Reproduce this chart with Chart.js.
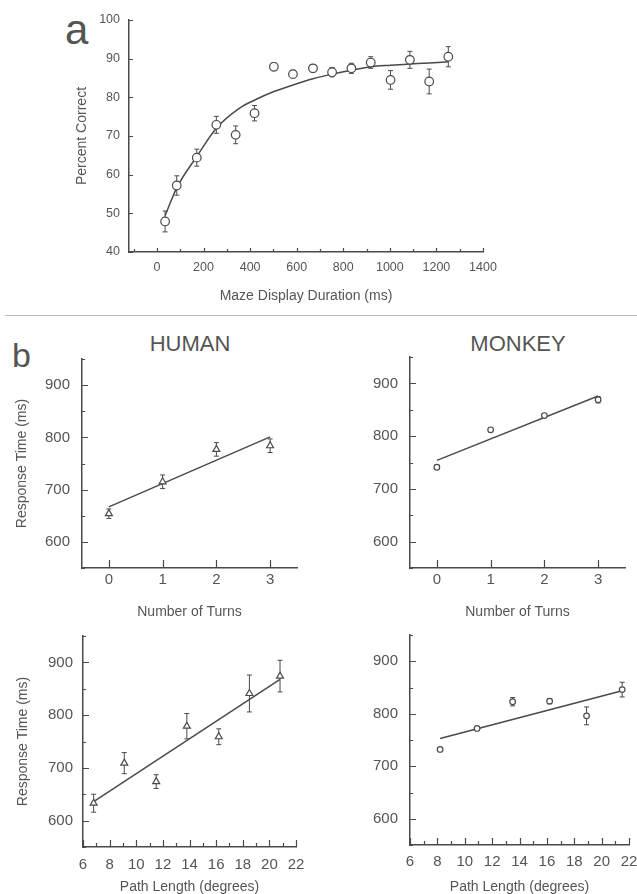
<!DOCTYPE html>
<html>
<head>
<meta charset="utf-8">
<script src="https://cdn.jsdelivr.net/npm/chart.js@4.4.1/dist/chart.umd.min.js"></script>
<style>
  html, body { margin: 0; padding: 0; background: #fff; overflow: hidden; }
  body { width: 637px; height: 894px; position: relative; font-family: "Liberation Sans", Arial, sans-serif; color: #555; }
  canvas { position: absolute; }
  .lbl { position: absolute; white-space: nowrap; }
  .panel { font-size: 42px; line-height: 42px; }
  .head { font-size: 22px; line-height: 22px; width: 200px; text-align: center; }
  .sep { position: absolute; left: 5px; right: 0; top: 315px; height: 1px; background: #bbb; }
</style>
</head>
<body>
<div class="lbl panel" style="left:65px; top:9px;">a</div>
<div class="lbl panel" style="left:12px; top:338px; font-size:34px; line-height:34px;">b</div>
<div class="lbl head" style="left:90px; top:333px;">HUMAN</div>
<div class="lbl head" style="left:418px; top:333px;">MONKEY</div>
<div class="sep"></div>

<canvas id="chartA" width="440" height="300" style="left:60px; top:10px;"></canvas>
<canvas id="humTurns" width="318" height="295" style="left:0px; top:330px;"></canvas>
<canvas id="monTurns" width="319" height="295" style="left:318px; top:330px;"></canvas>
<canvas id="humPath" width="318" height="269" style="left:0px; top:625px;"></canvas>
<canvas id="monPath" width="319" height="269" style="left:318px; top:625px;"></canvas>

<script>
// ---- panel a: percent correct vs display duration
const durMs = [35, 85, 171, 255, 338, 419, 502, 584, 670, 752, 835, 918, 1003, 1086, 1169, 1251];
const pctCorrect = [47.9, 57.2, 64.4, 72.9, 70.3, 75.9, 87.9, 86.0, 87.5, 86.5, 87.5, 89.0, 84.5, 89.7, 84.1, 90.5];
const pctErr = [2.7, 2.5, 2.2, 2.2, 2.3, 2.0, 1.0, 1.0, 1.0, 1.2, 1.3, 1.5, 2.4, 2.2, 3.2, 2.6];
const fitMs = [35, 85, 171, 255, 355, 420, 502, 584, 670, 752, 835, 918, 1003, 1086, 1170, 1250];
const fitPct = [49.4, 56.6, 64.7, 72.0, 77.2, 79.3, 81.5, 83.2, 84.8, 86.0, 87.0, 87.9, 88.3, 88.6, 88.9, 89.2];
const durTicks = [0, 200, 400, 600, 800, 1000, 1200, 1400];
const pctTicks = [40, 50, 60, 70, 80, 90, 100];

// ---- panel b: response time
const turns = [0, 1, 2, 3];
const humTurnRT = [654, 715, 777, 784];
const humTurnErr = [9, 13, 13, 13];
const humTurnFit = [667, 801];
const monTurnRT = [741, 812, 839, 869];
const monTurnErr = [4, 4, 4, 6];
const monTurnFit = [754, 876];

const humPathDeg = [6.8, 9.1, 11.5, 13.8, 16.2, 18.5, 20.8];
const humPathRT = [633, 709, 674, 779, 759, 841, 874];
const humPathErr = [17, 20, 13, 24, 15, 35, 30];
const humPathFitX = [6.8, 20.8];
const humPathFitY = [636, 868];
const monPathDeg = [8.2, 10.9, 13.5, 16.2, 18.9, 21.5];
const monPathRT = [732, 772, 823, 824, 796, 846];
const monPathErr = [3, 3, 8, 5, 17, 14];
const monPathFitX = [8.2, 21.5];
const monPathFitY = [753, 844];

const rtTicks = [600, 700, 800, 900];
const pathTicks = [6, 8, 10, 12, 14, 16, 18, 20, 22];

const INK = '#4a4a4a';
const TXT = '#555';

const pts = (xs, ys) => xs.map((x, i) => ({ x: x, y: ys[i] }));

// vertical error bars, drawn under the open markers
const errorBars = {
  id: 'errorBars',
  beforeDatasetsDraw(chart) {
    const { ctx, scales: { x, y } } = chart;
    ctx.save();
    ctx.strokeStyle = INK;
    ctx.lineWidth = 1;
    chart.data.datasets.forEach(ds => {
      if (!ds.errors) return;
      ds.data.forEach((p, i) => {
        const e = ds.errors[i];
        const px = x.getPixelForValue(p.x);
        const top = y.getPixelForValue(p.y + e);
        const bot = y.getPixelForValue(p.y - e);
        ctx.beginPath();
        ctx.moveTo(px, top); ctx.lineTo(px, bot);
        ctx.moveTo(px - 2.5, top); ctx.lineTo(px + 2.5, top);
        ctx.moveTo(px - 2.5, bot); ctx.lineTo(px + 2.5, bot);
        ctx.stroke();
      });
    });
    ctx.restore();
  }
};

// tick marks pointing into the plot
const innerTicks = {
  id: 'innerTicks',
  afterDraw(chart, args, opts) {
    const { ctx, chartArea: a, scales: { x, y } } = chart;
    ctx.save();
    ctx.strokeStyle = INK;
    ctx.lineWidth = 1.2;
    ctx.beginPath();
    const isMajor = (v, step) => Math.abs(v / step - Math.round(v / step)) < 1e-6;
    for (let v = Math.ceil(x.min / opts.xMinor) * opts.xMinor; v <= x.max + 1e-6; v += opts.xMinor) {
      const px = Math.round(x.getPixelForValue(v)) + 0.5;
      const len = isMajor(v, opts.xMajor) ? opts.xLen : opts.xMinorLen;
      ctx.moveTo(px, a.bottom); ctx.lineTo(px, a.bottom - len);
    }
    for (let v = Math.ceil(y.min / opts.yMinor) * opts.yMinor; v <= y.max + 1e-6; v += opts.yMinor) {
      const py = Math.round(y.getPixelForValue(v)) + 0.5;
      const len = isMajor(v, opts.yMajor) ? opts.yLen : opts.yMinorLen;
      ctx.moveTo(a.left, py); ctx.lineTo(a.left + len, py);
    }
    ctx.stroke();
    ctx.restore();
  }
};

const makeScale = (o) => ({
  type: 'linear',
  min: o.min,
  max: o.max,
  afterBuildTicks: s => { s.ticks = o.ticks.map(v => ({ value: v })); },
  afterFit: s => {
    if (o.width) s.width = o.width;
    if (o.height) s.height = o.height;
    // keep chart area fixed by the layout padding only
    s.paddingTop = 0; s.paddingBottom = 0; s.paddingLeft = 0; s.paddingRight = 0;
  },
  grid: { display: false, drawTicks: false },
  border: { display: true, color: INK, width: 1.5 },
  ticks: { color: TXT, padding: o.pad, font: { family: 'Liberation Sans', size: o.size }, callback: v => String(v) },
  title: o.title ? {
    display: true, text: o.title, color: TXT, padding: o.titlePad,
    font: { family: 'Liberation Sans', size: 14, lineHeight: 1 }
  } : { display: false }
});

const scatterSet = (data, errs, style, r) => ({
  type: 'scatter',
  data: data,
  errors: errs,
  pointStyle: style,
  pointRadius: r,
  pointBorderWidth: 1.2,
  borderColor: INK,
  backgroundColor: '#fff',
  order: 1
});

const lineSet = (data, tension) => ({
  type: 'line',
  data: data,
  borderColor: INK,
  borderWidth: 1.5,
  pointRadius: 0,
  fill: false,
  tension: tension,
  cubicInterpolationMode: tension ? 'monotone' : 'default',
  order: 2
});

const baseOpts = (padding, xScale, yScale, tickOpts) => ({
  responsive: false,
  animation: false,
  layout: { padding: padding },
  plugins: { legend: { display: false }, tooltip: { enabled: false }, innerTicks: tickOpts },
  scales: { x: xScale, y: yScale }
});

// panel a
new Chart(document.getElementById('chartA'), {
  data: {
    datasets: [
      scatterSet(pts(durMs, pctCorrect), pctErr, 'circle', 4.3),
      lineSet(pts(fitMs, fitPct), 0.4)
    ]
  },
  options: baseOpts({ left: 0, right: 17, top: 10, bottom: 0 },
    makeScale({ min: -120, max: 1400, ticks: durTicks, height: 58, pad: 8, size: 12.5,
      title: 'Maze Display Duration (ms)', titlePad: { bottom: 7 } }),
    makeScale({ min: 40, max: 100, ticks: pctTicks, width: 69, pad: 9, size: 12.5,
      title: 'Percent Correct', titlePad: { top: 15 } }),
    { xMinor: 100, xMajor: 200, xLen: 4, xMinorLen: 3, yMinor: 10, yMajor: 10, yLen: 4, yMinorLen: 4 }),
  plugins: [errorBars, innerTicks]
});

const turnTicks = { xMinor: 1, xMajor: 1, xLen: 8, xMinorLen: 8, yMinor: 50, yMajor: 100, yLen: 6, yMinorLen: 3 };
const pathTickOpts = { xMinor: 1, xMajor: 2, xLen: 7, xMinorLen: 4, yMinor: 50, yMajor: 100, yLen: 6, yMinorLen: 3 };

// human, turns
new Chart(document.getElementById('humTurns'), {
  data: {
    datasets: [
      scatterSet(pts(turns, humTurnRT), humTurnErr, 'triangle', 4),
      lineSet(pts([turns[0], turns[3]], humTurnFit), 0)
    ]
  },
  options: baseOpts({ left: 0, right: 21, top: 29, bottom: 0 },
    makeScale({ min: -0.5, max: 3.5, ticks: turns, height: 57, pad: 3, size: 15,
      title: 'Number of Turns', titlePad: { bottom: 6 } }),
    makeScale({ min: 550, max: 950, ticks: rtTicks, width: 82, pad: 12, size: 15,
      title: 'Response Time (ms)', titlePad: { top: 15 } }),
    turnTicks),
  plugins: [errorBars, innerTicks]
});

// monkey, turns
new Chart(document.getElementById('monTurns'), {
  data: {
    datasets: [
      scatterSet(pts(turns, monTurnRT), monTurnErr, 'circle', 2.8),
      lineSet(pts([turns[0], turns[3]], monTurnFit), 0)
    ]
  },
  options: baseOpts({ left: 0, right: 12, top: 27, bottom: 0 },
    makeScale({ min: -0.5, max: 3.5, ticks: turns, height: 57, pad: 3, size: 15,
      title: 'Number of Turns', titlePad: { bottom: 6 } }),
    makeScale({ min: 550, max: 950, ticks: rtTicks, width: 92, pad: 12, size: 15 }),
    turnTicks),
  plugins: [errorBars, innerTicks]
});

// human, path length
new Chart(document.getElementById('humPath'), {
  data: {
    datasets: [
      scatterSet(pts(humPathDeg, humPathRT), humPathErr, 'triangle', 4),
      lineSet(pts(humPathFitX, humPathFitY), 0)
    ]
  },
  options: baseOpts({ left: 0, right: 22, top: 11, bottom: 0 },
    makeScale({ min: 6, max: 22, ticks: pathTicks, height: 47, pad: 9, size: 15,
      title: 'Path Length (degrees)', titlePad: { bottom: 0 } }),
    makeScale({ min: 550, max: 950, ticks: rtTicks, width: 83, pad: 10, size: 15,
      title: 'Response Time (ms)', titlePad: { top: 16 } }),
    pathTickOpts),
  plugins: [errorBars, innerTicks]
});

// monkey, path length
new Chart(document.getElementById('monPath'), {
  data: {
    datasets: [
      scatterSet(pts(monPathDeg, monPathRT), monPathErr, 'circle', 2.8),
      lineSet(pts(monPathFitX, monPathFitY), 0)
    ]
  },
  options: baseOpts({ left: 0, right: 8, top: 10, bottom: 0 },
    makeScale({ min: 6, max: 22, ticks: pathTicks, height: 49, pad: 8, size: 15,
      title: 'Path Length (degrees)', titlePad: { bottom: 0 } }),
    makeScale({ min: 550, max: 950, ticks: rtTicks, width: 92, pad: 12, size: 15 }),
    pathTickOpts),
  plugins: [errorBars, innerTicks]
});
</script>
</body>
</html>
